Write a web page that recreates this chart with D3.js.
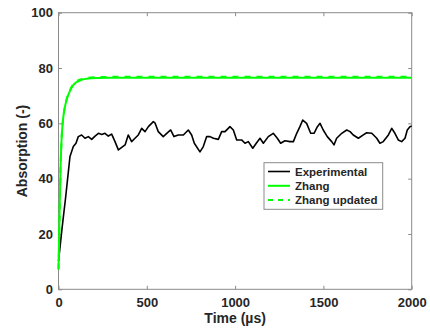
<!DOCTYPE html>
<html>
<head>
<meta charset="utf-8">
<script src="https://cdn.jsdelivr.net/npm/d3@7"></script>
<style>
  html, body { margin: 0; padding: 0; background: #fff; }
  svg text { font-family: "Liberation Sans", Arial, Helvetica, sans-serif; font-weight: bold; fill: #262626; }
</style>
</head>
<body>
<svg id="chart" width="430" height="332"></svg>
<script>
// Measured absorption over time
const expTime = [0, 20, 40, 55, 65, 84, 99, 112, 131, 150, 169, 188, 207, 226, 245, 263, 282, 301, 320, 339,
  358, 377, 395, 414, 433, 452, 471, 490, 509, 537, 546, 565, 593, 613, 635, 654, 678, 707, 735, 754,
  769, 801, 820, 839, 858, 877, 905, 924, 943, 971, 990, 1009, 1037, 1056, 1075, 1100, 1122, 1141, 1160, 1188,
  1216, 1239, 1258, 1282, 1311, 1330, 1349, 1367, 1383, 1405, 1428, 1447, 1466, 1481, 1499, 1522, 1547, 1560, 1575, 1604,
  1632, 1651, 1669, 1698, 1726, 1745, 1774, 1802, 1820, 1839, 1868, 1887, 1905, 1924, 1943, 1962, 1975, 1990, 2000];
const expAbs = [10.2, 22, 33, 42, 48, 51.6, 52.8, 55.2, 55.8, 54.6, 55.2, 54.2, 55.4, 56.4, 56.0, 56.4, 55.4, 56.1, 53.4, 50.4,
  51.3, 52.2, 55.8, 53.4, 54.6, 55.8, 58.2, 57.0, 58.8, 60.6, 60.2, 57.0, 55.2, 56.4, 57.6, 55.2, 55.8, 55.8, 57.6, 55.8,
  52.8, 49.7, 51.6, 55.2, 55.2, 54.6, 54.2, 57.0, 57.0, 58.8, 57.6, 54.0, 54.0, 52.8, 53.4, 51.0, 53.0, 54.6, 52.8, 55.2,
  56.4, 54.6, 52.8, 53.7, 53.4, 53.4, 56.4, 58.8, 61.2, 60.0, 56.4, 56.4, 58.8, 60.0, 57.6, 55.2, 53.4, 52.2, 54.6, 56.4,
  57.6, 57.0, 55.8, 54.6, 55.8, 56.6, 56.4, 54.6, 52.8, 53.4, 55.8, 58.2, 56.4, 54.0, 53.4, 54.6, 57.6, 58.8, 59.0];

// Zhang model
const zhangTime = [0, 4, 8, 12, 18, 25, 35, 46, 60, 80, 100, 130, 170, 220, 300, 600, 1000, 1500, 2000];
const zhangAbs  = [7.2, 20, 34, 45, 55, 61, 65.5, 68.5, 71, 73.5, 74.8, 75.7, 76.2, 76.4, 76.5, 76.5, 76.5, 76.5, 76.5];

// Zhang model, updated
const zhangUpdTime = [0, 4, 8, 12, 18, 25, 35, 46, 60, 80, 100, 130, 170, 220, 300, 600, 1000, 1500, 2000];
const zhangUpdAbs  = [7.2, 20, 34, 45, 55, 61, 65.6, 68.7, 71.2, 73.8, 75.1, 76.0, 76.5, 76.7, 76.8, 76.8, 76.8, 76.8, 76.8];

const xTicks = [0, 500, 1000, 1500, 2000];
const yTicks = [0, 20, 40, 60, 80, 100];
const seriesNames = ["Experimental", "Zhang", "Zhang updated"];

const plotLeft = 58.5, plotRight = 411.7, plotTop = 12.7, plotBottom = 289.3;
const svg = d3.select("#chart");

const x = d3.scaleLinear().domain([0, 2000]).range([plotLeft, plotRight]);
const y = d3.scaleLinear().domain([0, 100]).range([plotBottom, plotTop]);

const axisColor = "#8a8a8a";
const tickLen = 3.5;

// Axes with inward ticks on all four sides
const gx = svg.append("g").attr("transform", `translate(0,${plotBottom})`)
  .call(d3.axisBottom(x).tickValues(xTicks).tickSize(-tickLen).tickPadding(8.5).tickFormat(d3.format("d")));
const gxTop = svg.append("g").attr("transform", `translate(0,${plotTop})`)
  .call(d3.axisTop(x).tickValues(xTicks).tickSize(-tickLen).tickFormat(""));
const gy = svg.append("g").attr("transform", `translate(${plotLeft},0)`)
  .call(d3.axisLeft(y).tickValues(yTicks).tickSize(-tickLen).tickPadding(5.5).tickFormat(d3.format("d")));
const gyRight = svg.append("g").attr("transform", `translate(${plotRight},0)`)
  .call(d3.axisRight(y).tickValues(yTicks).tickSize(-tickLen).tickFormat(""));

[gx, gxTop, gy, gyRight].forEach(g => {
  g.select(".domain").remove();
  g.selectAll(".tick line").attr("stroke", axisColor).attr("stroke-width", 1);
  g.selectAll(".tick text").attr("font-size", 13).style("fill", "#262626")
    .attr("font-family", null);
});

// Plot box
svg.append("rect")
  .attr("x", plotLeft).attr("y", plotTop)
  .attr("width", plotRight - plotLeft).attr("height", plotBottom - plotTop)
  .attr("fill", "none").attr("stroke", axisColor).attr("stroke-width", 1);

// Lines
const line = d3.line().x(d => x(d[0])).y(d => y(d[1]));
const smooth = d3.line().curve(d3.curveMonotoneX).x(d => x(d[0])).y(d => y(d[1]));

svg.append("path")
  .datum(expTime.map((t, i) => [t, expAbs[i]]))
  .attr("d", line).attr("fill", "none")
  .attr("stroke", "#000").attr("stroke-width", 1.6).attr("stroke-linejoin", "round");

svg.append("path")
  .datum(zhangTime.map((t, i) => [t, zhangAbs[i]]))
  .attr("d", smooth)
  .attr("fill", "none").attr("stroke", "#00ff00").attr("stroke-width", 2);

svg.append("path")
  .datum(zhangUpdTime.map((t, i) => [t, zhangUpdAbs[i]]))
  .attr("d", smooth)
  .attr("fill", "none").attr("stroke", "#00ff00").attr("stroke-width", 2)
  .attr("stroke-dasharray", "6,6");

// Axis titles
svg.append("text")
  .attr("x", (plotLeft + plotRight) / 2).attr("y", 323)
  .attr("text-anchor", "middle").attr("font-size", 14)
  .text("Time (µs)");

svg.append("text")
  .attr("transform", `translate(27,${(plotTop + plotBottom) / 2}) rotate(-90)`)
  .attr("text-anchor", "middle").attr("font-size", 14)
  .text("Absorption (-)");

// Legend
const lg = svg.append("g");
lg.append("rect")
  .attr("x", 264).attr("y", 162.7).attr("width", 118.7).attr("height", 46.6)
  .attr("fill", "#fff").attr("stroke", axisColor).attr("stroke-width", 1);
const legendStyles = [
  { stroke: "#000", width: 1.6, dash: null },
  { stroke: "#00ff00", width: 2, dash: null },
  { stroke: "#00ff00", width: 2, dash: "5,5" }
];
const rowY = [171.5, 185.8, 200.1];
seriesNames.forEach((name, i) => {
  lg.append("line")
    .attr("x1", 268).attr("x2", 290).attr("y1", rowY[i]).attr("y2", rowY[i])
    .attr("stroke", legendStyles[i].stroke).attr("stroke-width", legendStyles[i].width)
    .attr("stroke-dasharray", legendStyles[i].dash);
  lg.append("text")
    .attr("x", 295).attr("y", rowY[i] + 4.2)
    .attr("font-size", 11.5)
    .text(name);
});
</script>
</body>
</html>
